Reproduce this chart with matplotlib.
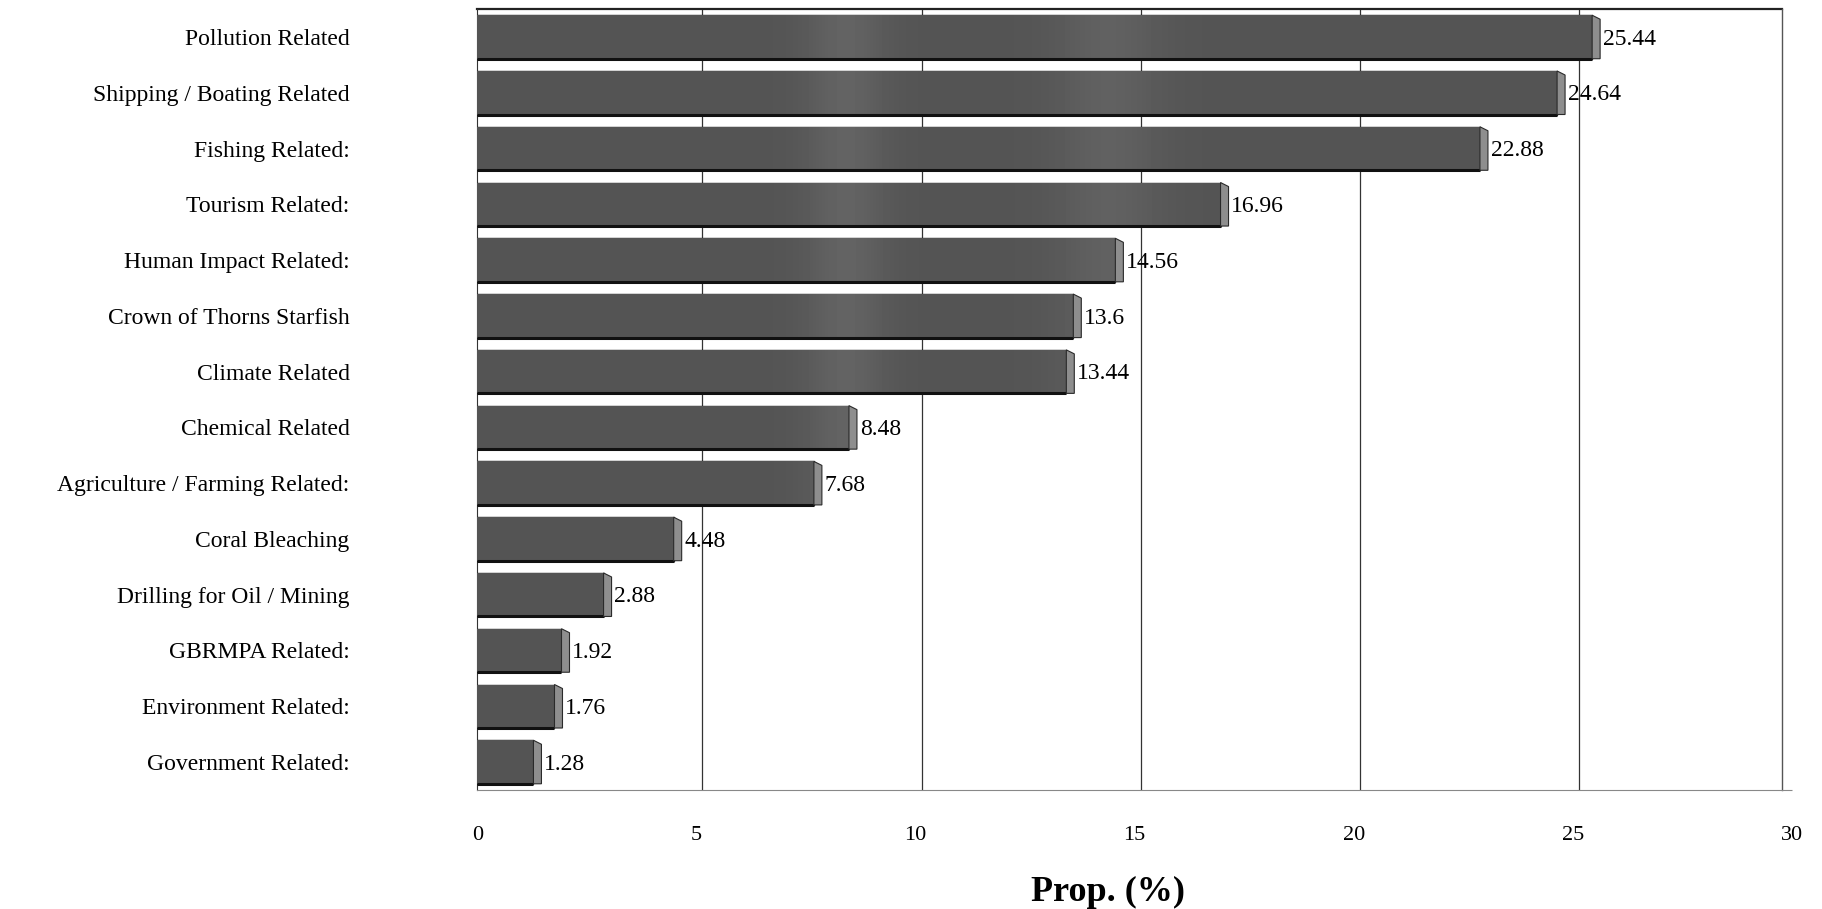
import numpy as np
import matplotlib
matplotlib.use("Agg")
import matplotlib.pyplot as plt
from matplotlib.patches import Polygon
import matplotlib.transforms as mtransforms

categories = [
    "Pollution Related",
    "Shipping / Boating Related",
    "Fishing Related:",
    "Tourism Related:",
    "Human Impact Related:",
    "Crown of Thorns Starfish",
    "Climate Related",
    "Chemical Related",
    "Agriculture / Farming Related:",
    "Coral Bleaching",
    "Drilling for Oil / Mining",
    "GBRMPA Related:",
    "Environment Related:",
    "Government Related:",
]
values = [25.44, 24.64, 22.88, 16.96, 14.56, 13.6, 13.44, 8.48, 7.68, 4.48, 2.88, 1.92, 1.76, 1.28]
value_labels = ["25.44", "24.64", "22.88", "16.96", "14.56", "13.6", "13.44",
                "8.48", "7.68", "4.48", "2.88", "1.92", "1.76", "1.28"]
xticks = [0, 5, 10, 15, 20, 25, 30]

plt.rcParams['font.family'] = ['Liberation Serif', 'DejaVu Serif']

fig = plt.figure(figsize=(18.22, 9.09), dpi=100)
ax = fig.add_axes([0.262, 0.131, 0.7215, 0.859])

n = len(categories)
ax.set_xlim(0, 30)
ax.set_ylim(n - 0.5, -0.5)

y = np.arange(n)
height = 0.78
bars = ax.barh(y, values, height=height, color="#5a5a5a", edgecolor="#1a1a1a",
               linewidth=1.0, zorder=3)

# subtle horizontal shading on the bar fronts
grad = np.linspace(0, 1, 400)
shade = (0.33 + 0.06 * np.exp(-((grad - 0.28) / 0.03) ** 2)
         + 0.05 * np.exp(-((grad - 0.48) / 0.04) ** 2))
img = np.tile(shade, (2, 1))
for b in bars:
    im = ax.imshow(img, cmap="gray", vmin=0, vmax=1, aspect="auto",
                   extent=[0, 30, b.get_y() + b.get_height(), b.get_y()],
                   zorder=3.5, interpolation="bilinear")
    im.set_clip_path(b)
    ax.plot([b.get_x(), b.get_x() + b.get_width()],
            [b.get_y() + b.get_height(), b.get_y() + b.get_height()],
            color="#111111", lw=2.2, zorder=4, solid_capstyle="butt")

# 3D right side faces (chamfered)
fig.canvas.draw()
inv = ax.transData.inverted()
o = ax.transData.transform((0, 0))
dxd = inv.transform((o[0] + 8, o[1]))[0]
dyd = inv.transform((o[0], o[1] - 4))[1] - inv.transform(o)[1]
for b in bars:
    x1 = b.get_x() + b.get_width()
    yt = b.get_y()
    yb = b.get_y() + b.get_height()
    pts = [(x1, yt), (x1 + dxd, yt + dyd), (x1 + dxd, yb), (x1, yb)]
    side = Polygon(pts, closed=True, facecolor="#8e8e8e",
                   edgecolor="#2a2a2a", lw=0.8, zorder=5)
    ax.add_patch(side)

for b, lab in zip(bars, value_labels):
    ax.text(b.get_width() + 1.35 * dxd, b.get_y() + b.get_height() / 2 + 0.04, lab,
            va="center", ha="left", fontsize=17, zorder=6)

ax.set_xticks(xticks)
ax.set_xticklabels([str(t) for t in xticks], fontsize=16)
ax.set_yticks(y)
ax.set_yticklabels(categories, fontsize=17)
ax.tick_params(axis="x", length=0, pad=26)
ax.tick_params(axis="y", length=0, pad=92)

# gridlines on the back wall (shifted by the 3D depth)
wall = ax.get_xaxis_transform() + mtransforms.ScaledTranslation(6 / 100, 0, fig.dpi_scale_trans)
ax.vlines(xticks[1:-1], 0, 1, transform=wall, color="#333333", lw=0.9, zorder=1)

ax.spines["top"].set_visible(False)
ax.spines["right"].set_visible(False)
ax.spines["left"].set_color("#333333")
ax.spines["bottom"].set_color("#888888")
ax.spines["bottom"].set_linestyle((0, (3, 1)))
# back-wall frame (top and right edges)
xr = 29.78
ax.plot([0, xr], [-0.5, -0.5], color="#222222", lw=1.6, zorder=2, clip_on=False)
ax.plot([xr, xr], [-0.5, n - 0.5], color="#555555", lw=1.0, zorder=2, clip_on=False)

ax.set_xlabel("Prop. (%)", fontsize=26, fontweight="bold")
ax.xaxis.set_label_coords(0.480, -0.110)

fig.savefig("out.png", dpi=100)
